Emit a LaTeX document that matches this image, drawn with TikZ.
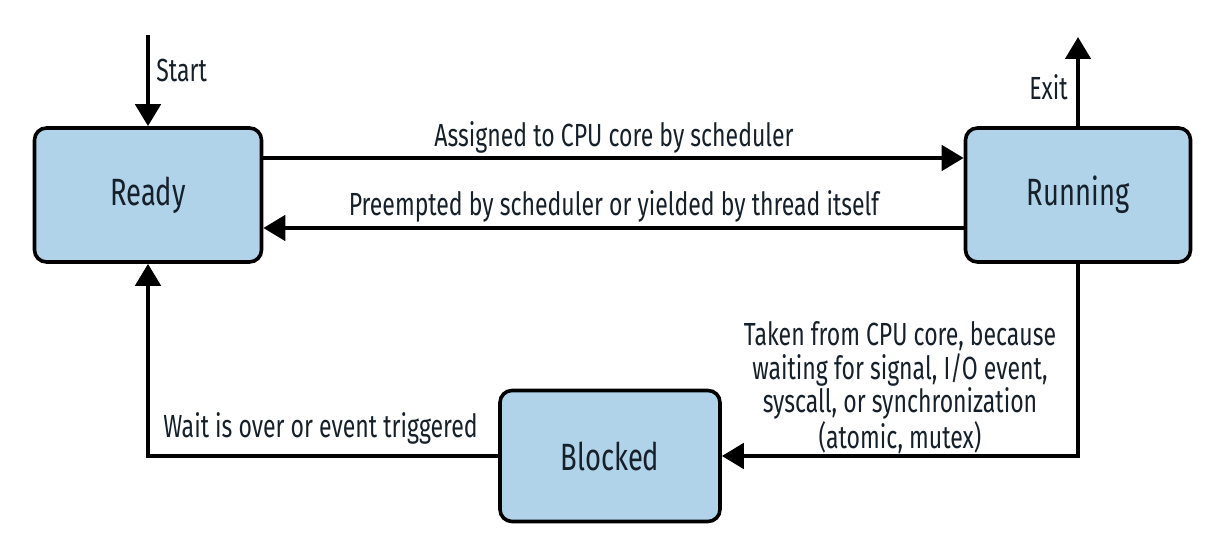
\documentclass[tikz,border=0pt]{standalone}
\usepackage{fontspec}
\setmainfont{Fira Sans}[FakeStretch=0.72]
\usetikzlibrary{arrows.meta}
\definecolor{StateFill}{HTML}{B0D3EA}
\definecolor{StateText}{HTML}{16202A}

\begin{document}
\begin{tikzpicture}[x=0.5pt,y=0.5pt,
  state/.style={draw=black,line width=1.8pt,fill=StateFill,rounded corners=6pt,
    text=StateText,font=\fontsize{19}{22}\selectfont,inner sep=0pt},
  flow/.style={line width=2.3pt,-{Triangle[width=12.5pt,length=11pt]}},
  lbl/.style={text=StateText,font=\fontsize{16}{19}\selectfont,inner sep=0pt}]
\path[use as bounding box] (0,0) rectangle (1220,549);
% states
\node[state,minimum width=113.5pt,minimum height=67pt] (ready) at (148,354) {Ready};
\node[state,minimum width=112.5pt,minimum height=67pt] (running) at (1078,354) {Running};
\node[state,minimum width=110pt,minimum height=65.5pt] (blocked) at (610,93) {Blocked};
\coordinate (start) at (148,514);
\coordinate (exit) at (1078,512);
% transitions
\draw[flow] (start) -- (ready.north);
\draw[flow] (running.north) -- (exit);
\draw[flow] ([yshift=18.5pt]ready.east) -- ([yshift=18.5pt]running.west);
\draw[flow] ([yshift=-16.5pt]running.west) -- ([yshift=-16.5pt]ready.east);
\draw[flow] (running.south) |- (blocked.east);
\draw[flow] (blocked.west) -| (ready.south);
% labels
\node[lbl,anchor=west] (startlbl) at (156,479) {Start};
\node[lbl,anchor=east] (exitlbl) at (1068,462) {Exit};
\node[lbl] (assignlbl) at (614,412) {Assigned to CPU core by scheduler};
\node[lbl] (preemptlbl) at (614,343) {Preempted by scheduler or yielded by thread itself};
\node[lbl,anchor=west] (waitlbl) at (163,121) {Wait is over or event triggered};
\node[lbl,align=center,font=\fontsize{16}{14.75}\selectfont] (takenlbl) at (900,161)
  {Taken from CPU core, because\\waiting for signal, I/O event,\\syscall, or synchronization\\(atomic, mutex)};
\end{tikzpicture}
\end{document}
